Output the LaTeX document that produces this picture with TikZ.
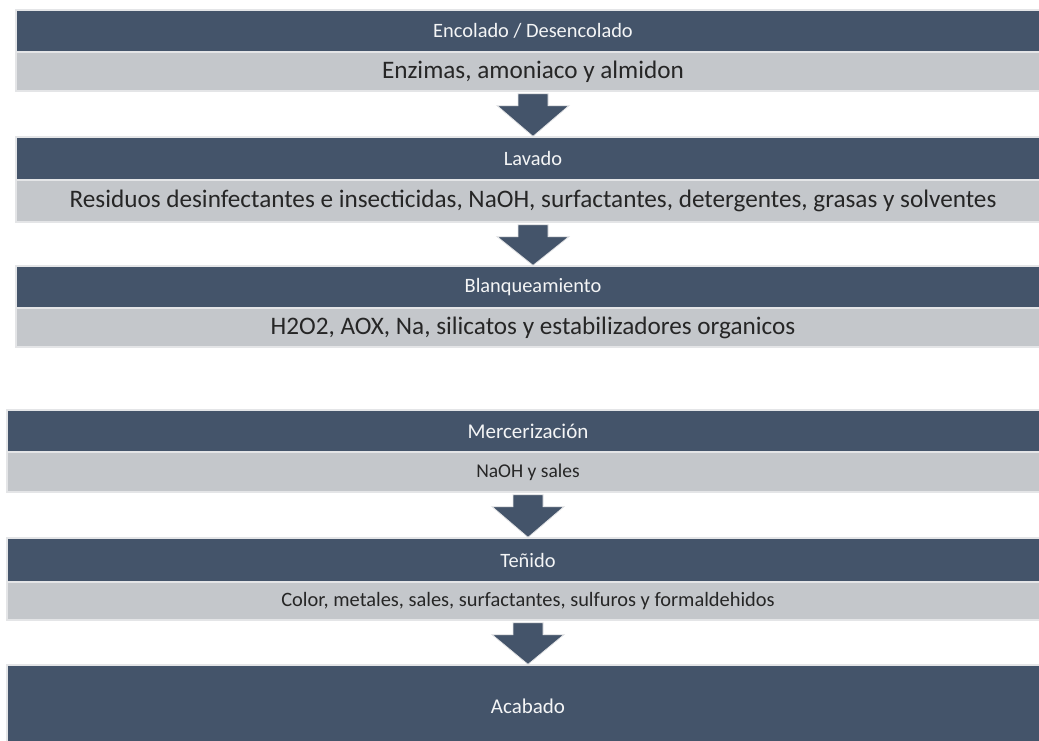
\documentclass[tikz,border=0pt]{standalone}
\usepackage{fontspec}
\setmainfont{Carlito}
\usetikzlibrary{calc}
\definecolor{azul}{HTML}{44546A}
\definecolor{gris}{HTML}{C4C7CB}
\definecolor{marco}{HTML}{E4E5E7}
\definecolor{texto}{HTML}{262626}
% flecha de bloque entre dos barras
\newcommand{\flecha}[2]{%
  \filldraw[fill=azul,draw=marco,line width=.8pt]
  ($(#1.south)+(-15,2)$) -- ($(#1.south)+(15,2)$) -- ($(#1.south)+(15,14)$)
  -- ($(#1.south)+(36,14)$) -- (#2.north) -- ($(#1.south)+(-36,14)$)
  -- ($(#1.south)+(-15,14)$) -- cycle;}
\begin{document}
\begin{tikzpicture}[x=1pt,y=-1pt,
    barra/.style={fill=azul,draw=marco,line width=1.2pt,inner sep=0pt,
      minimum height=#1,text=white!94!azul,font=\fontsize{20.4}{24}\selectfont},
    sub/.style={fill=gris,draw=marco,line width=1.2pt,inner sep=0pt,
      minimum height=#1,text=texto},
    arriba/.style={minimum width=1034pt},
    abajo/.style={minimum width=1042pt}]
  \useasboundingbox[clip] (0,0) rectangle (1039,740);
  % grupo de arriba
  \node[barra=42,arriba] (enc) at (533,31) {Encolado / Desencolado};
  \node[sub=39,arriba,font=\fontsize{25.2}{29}\selectfont] (encsub) at (533,71.5) {Enzimas, amoniaco y almidon};
  \node[barra=43,arriba] (lav) at (533,158.5) {Lavado};
  \node[sub=42,arriba,font=\fontsize{25.2}{29}\selectfont] (lavsub) at (533,201) {Residuos desinfectantes e insecticidas, NaOH, surfactantes, detergentes, grasas y solventes};
  \node[barra=42,arriba] (bla) at (533,287) {Blanqueamiento};
  \node[sub=39,arriba,font=\fontsize{25.2}{29}\selectfont] (blasub) at (533,327.5) {H2O2, AOX, Na, silicatos y estabilizadores organicos};
  % grupo de abajo
  \node[barra=42,abajo,font=\fontsize{21}{25}\selectfont] (mer) at (528,431) {Mercerización};
  \node[sub=40,abajo,font=\fontsize{19.5}{23}\selectfont] (mersub) at (528,472) {NaOH y sales};
  \node[barra=44,abajo] (ten) at (528,560) {Teñido};
  \node[sub=38,abajo,font=\fontsize{20.4}{24}\selectfont] (tensub) at (528,601) {Color, metales, sales, surfactantes, sulfuros y formaldehidos};
  \node[barra=82,abajo,font=\fontsize{21}{25}\selectfont] (aca) at (528,706) {Acabado};
  \flecha{encsub}{lav}
  \flecha{lavsub}{bla}
  \flecha{mersub}{ten}
  \flecha{tensub}{aca}
\end{tikzpicture}
\end{document}
